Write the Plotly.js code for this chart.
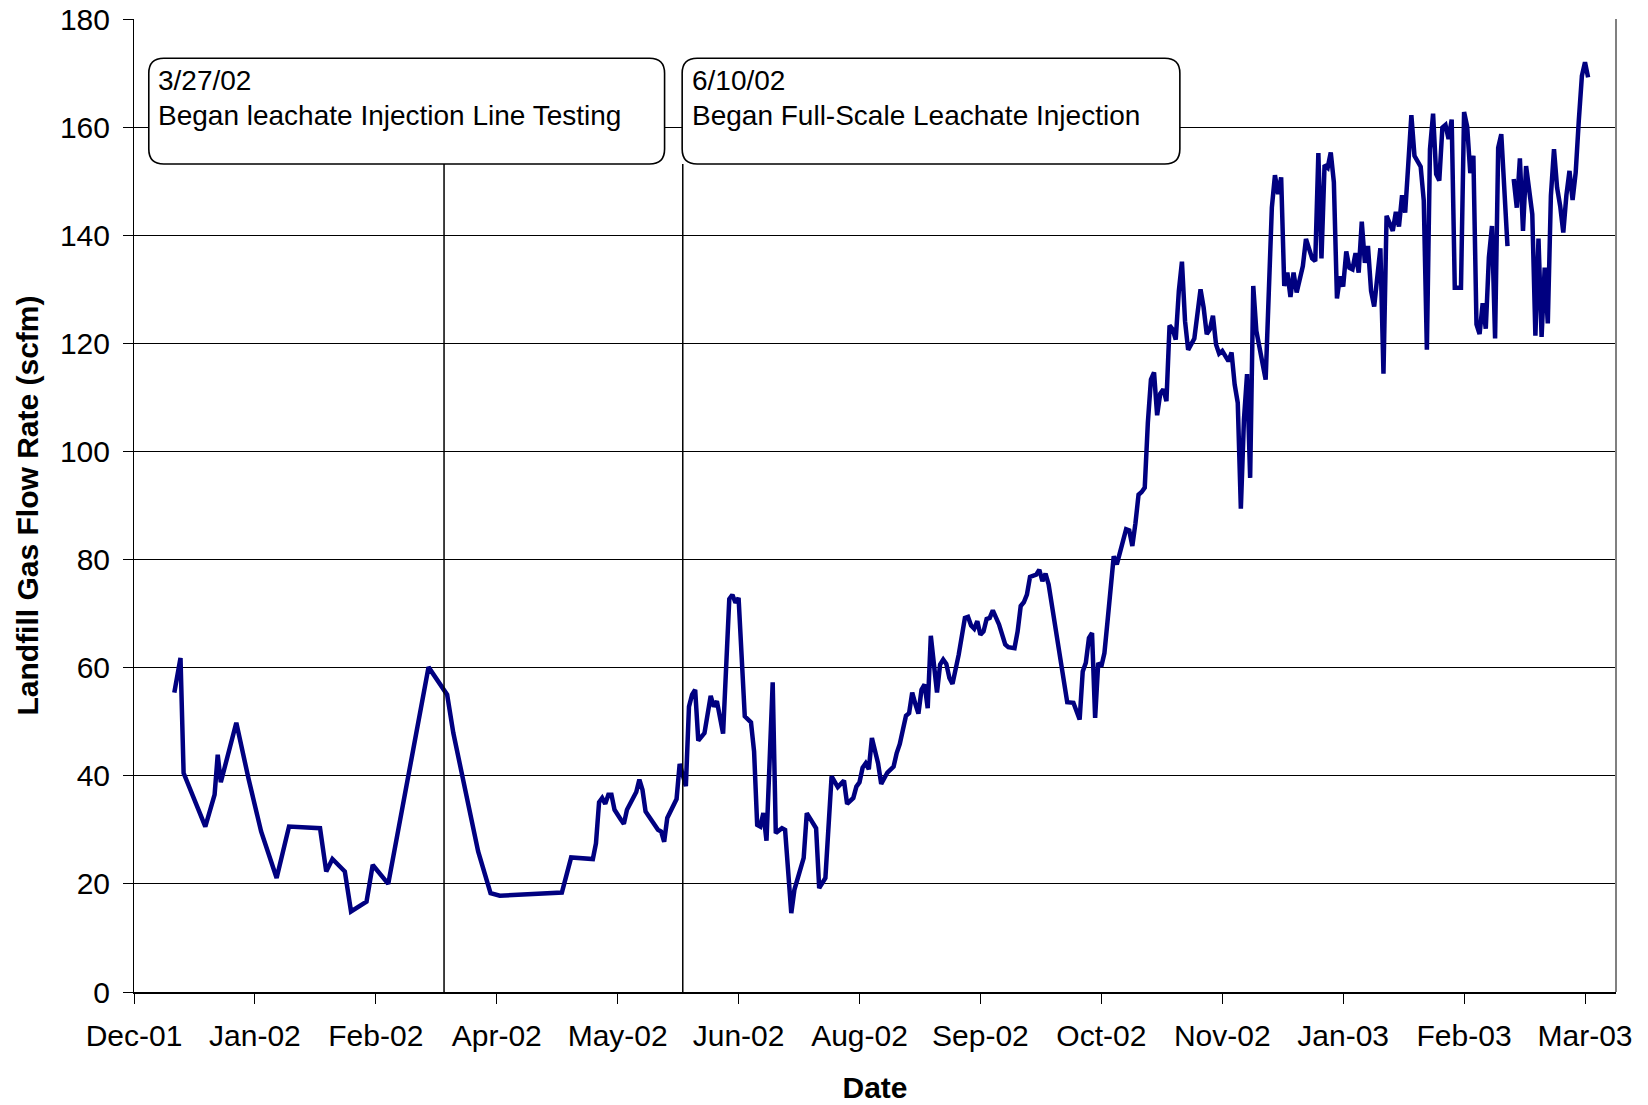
<!DOCTYPE html>
<html>
<head>
<meta charset="utf-8">
<script src="https://cdn.plot.ly/plotly-3.0.1.min.js"></script>
<style>html,body{margin:0;padding:0;background:#fff;}#chart{width:1648px;height:1105px;}</style>
</head>
<body>
<div id="chart"></div>
<script>
// Measurement day, counted in days after 2001-12-31
const dayOffset = [
-7,-5,-4,3,6,7,8,13,17,21,26,30,40,42,44,48,50,55,57,62,75,81,83,91,95,98,118,121,128,129,
130,131,132,133,134,135,137,138,139,142,143,144,145,149,150,151,152,155,156,158,159,160,161,162,164,166,167,168,170,172,
173,174,175,176,177,179,180,181,182,183,184,186,187,189,190,192,193,196,197,200,201,203,205,207,209,210,212,213,214,215,
216,217,218,220,221,223,225,226,227,228,229,230,231,232,233,234,235,236,237,239,240,241,242,243,244,246,248,249,250,251,
252,253,254,255,256,257,258,259,261,262,264,265,266,267,268,269,271,272,273,274,275,281,283,285,286,287,288,289,290,291,
292,293,294,295,296,297,298,300,301,302,303,304,305,306,307,308,309,310,311,312,313,314,315,316,317,318,319,320,322,323,
324,325,326,327,328,329,330,331,332,333,334,335,336,337,338,339,340,341,342,345,347,348,349,350,351,352,353,354,355,356,
357,358,360,361,362,363,364,365,366,367,368,369,370,371,372,373,374,375,376,377,378,379,380,382,383,384,386,387,388,389,
390,391,392,393,395,396,397,398,399,400,401,402,403,404,405,406,408,409,410,411,412,413,414,415,416,417,418,419,420,421,
422,423,424,425,426,427,428,429,431,432,433,434,435,436,437,438,439,440,441,442,443,444,445,446,447,448,449
];
// Landfill gas flow rate (scfm); null = no reading
const flowRate = [
55.4,61.8,40.5,30.6,36.5,43.9,38.8,49.8,39.3,29.7,21.1,30.6,30.3,22.3,24.6,22.3,14.9,16.7,23.5,20.0,60.1,55.0,47.9,26.0,18.3,17.8,18.4,24.9,24.6,27.5,
35.1,35.9,34.8,36.5,36.5,33.7,31.9,31.1,33.7,37.0,39.3,37.4,33.4,30.0,29.7,27.8,32.2,35.7,42.2,38.1,52.8,55.0,55.9,46.5,47.9,54.8,52.8,53.8,47.8,72.7,
73.5,72.0,72.9,63.3,51.0,49.9,44.5,30.9,30.6,33.1,28.0,57.3,29.4,30.3,30.0,14.6,18.9,24.8,33.1,30.3,19.2,21.1,39.9,37.9,39.1,34.8,35.9,38.0,38.8,41.5,
42.3,41.2,47.0,42.3,38.5,40.6,41.7,44.2,45.9,48.5,51.1,51.6,55.4,53.3,51.5,55.9,56.9,52.5,65.9,55.4,60.6,61.5,60.7,58.1,57.0,62.4,69.2,69.4,67.8,67.2,
68.6,66.1,66.7,69.0,69.2,70.6,69.4,68.0,64.3,63.8,63.6,66.7,71.4,72.1,73.5,76.8,77.2,78.1,76.0,77.4,75.4,53.6,53.5,50.4,59.3,60.9,65.5,66.4,50.7,60.9,
60.2,62.7,68.6,75.1,80.6,79.1,81.5,85.6,85.4,82.5,86.7,92.0,92.5,93.3,105.3,113.3,114.6,106.7,110.7,111.5,109.3,123.3,122.6,120.7,129.7,135.1,124.1,118.8,120.9,124.8,
130.0,126.6,121.7,122.6,125.1,119.8,118.1,118.6,117.8,116.7,118.3,112.4,109.0,89.4,105.9,114.3,95.1,130.6,122.3,113.3,145.1,151.1,147.6,150.7,130.6,133.1,128.6,133.1,129.4,131.9,
134.3,139.3,135.7,135.2,155.2,135.7,153.0,152.5,155.3,149.8,128.3,132.4,130.5,137.0,134.0,133.7,136.7,133.1,142.5,134.9,138.0,129.7,126.8,137.6,114.4,143.6,140.8,144.3,141.6,147.4,
144.2,153.1,162.2,154.7,152.7,146.4,118.8,155.9,162.5,151.3,150.1,159.9,160.4,157.8,161.4,130.3,130.3,162.8,160.1,151.5,154.7,123.5,121.7,127.4,122.7,135.9,141.7,120.9,156.2,158.7,
149.1,138.0,null,150.4,145.1,154.2,140.8,152.8,143.9,121.4,139.4,121.2,134.0,123.7,147.3,155.9,148.8,145.4,140.5,147.4,151.9,146.5,151.6,161.2,169.5,172.0,169.2
];
const eventDates = ['2002-03-21', '2002-06-06'];
const eventLabels = ['3/27/02', '6/10/02'];
const eventTexts = ['Began leachate Injection Line Testing', 'Began Full-Scale Leachate Injection'];
const axisStart = '2001-12-11', axisEnd = '2003-04-03';
const tickStepDays = 39;

const DAY0 = Date.UTC(2001, 11, 31);
const dates = dayOffset.map(d => new Date(DAY0 + d * 86400000).toISOString().slice(0, 10));

// plot-area geometry (pixels)
const ML = 133.5, MT = 19.3, PW = 1482.9, PH = 972.7;
const W = 1648, H = 1105;
const px2x = p => (p - ML) / PW;
const py2y = p => (MT + PH - p) / PH;

function roundRect(x0, y0, x1, y1, r) {
  const X = px2x, Y = py2y;
  return 'M ' + X(x0 + r) + ' ' + Y(y0) +
    ' L ' + X(x1 - r) + ' ' + Y(y0) +
    ' Q ' + X(x1) + ' ' + Y(y0) + ' ' + X(x1) + ' ' + Y(y0 + r) +
    ' L ' + X(x1) + ' ' + Y(y1 - r) +
    ' Q ' + X(x1) + ' ' + Y(y1) + ' ' + X(x1 - r) + ' ' + Y(y1) +
    ' L ' + X(x0 + r) + ' ' + Y(y1) +
    ' Q ' + X(x0) + ' ' + Y(y1) + ' ' + X(x0) + ' ' + Y(y1 - r) +
    ' L ' + X(x0) + ' ' + Y(y0 + r) +
    ' Q ' + X(x0) + ' ' + Y(y0) + ' ' + X(x0 + r) + ' ' + Y(y0) + ' Z';
}

const FONT = 'Liberation Sans, Arial, Helvetica, sans-serif';
const boxes = [
  {x0: 148.3, x1: 664.4, tx: 156.0},
  {x0: 682.0, x1: 1180.0, tx: 689.6}
];
const boxTop = 58.5, boxBottom = 164.3;

const shapes = [];
const annotations = [];
boxes.forEach((b, i) => {
  shapes.push({type: 'line', xref: 'x', yref: 'paper', x0: eventDates[i], x1: eventDates[i],
    y0: 0, y1: py2y(boxBottom), line: {color: '#000', width: 1.5}});
  shapes.push({type: 'path', xref: 'paper', yref: 'paper', path: roundRect(b.x0, boxTop, b.x1, boxBottom, 15),
    fillcolor: '#ffffff', line: {color: '#000', width: 1.6}});
  annotations.push({xref: 'paper', yref: 'paper', x: px2x(b.tx), y: py2y(80.5), xanchor: 'left', yanchor: 'middle',
    showarrow: false, text: eventLabels[i], font: {family: FONT, size: 28, color: '#000'}});
  annotations.push({xref: 'paper', yref: 'paper', x: px2x(b.tx), y: py2y(116), xanchor: 'left', yanchor: 'middle',
    showarrow: false, text: eventTexts[i], font: {family: FONT, size: 28, color: '#000'}});
});
shapes.push({type: 'line', xref: 'paper', yref: 'paper', x0: 1, x1: 1, y0: 0, y1: 1,
  line: {color: '#808080', width: 2}});

const trace = {
  type: 'scatter', mode: 'lines', x: dates, y: flowRate, connectgaps: false,
  line: {color: '#000080', width: 4.5}, hoverinfo: 'skip'
};

const layout = {
  width: W, height: H,
  margin: {l: ML, r: W - ML - PW, t: MT, b: H - MT - PH, pad: 0},
  paper_bgcolor: '#fff', plot_bgcolor: '#fff',
  showlegend: false,
  font: {family: FONT, color: '#000'},
  xaxis: {
    type: 'date', range: [axisStart, axisEnd], tick0: axisStart, dtick: tickStepDays * 86400000,
    tickformat: '%b-%y', ticks: 'outside', ticklen: 9.5, tickwidth: 1, tickcolor: '#000',
    showline: true, linecolor: '#000', linewidth: 2, showgrid: false, zeroline: false,
    tickfont: {family: FONT, size: 30, color: '#000'}, ticklabelstandoff: 6,
    title: {text: '<b>Date</b>', font: {family: FONT, size: 30, color: '#000'}, standoff: 26},
    automargin: false, fixedrange: true
  },
  yaxis: {
    range: [0, 180], dtick: 20, tick0: 0, ticks: 'outside', ticklen: 9.5, tickwidth: 1, tickcolor: '#000',
    showline: true, linecolor: '#000', linewidth: 1.5, showgrid: true, gridcolor: '#000', gridwidth: 1,
    zeroline: false, tickfont: {family: FONT, size: 30, color: '#000'}, ticklabelstandoff: 7,
    title: {text: '<b>Landfill Gas Flow Rate (scfm)</b>', font: {family: FONT, size: 30, color: '#000'}, standoff: 12},
    automargin: false, fixedrange: true
  },
  shapes: shapes,
  annotations: annotations
};

Plotly.newPlot('chart', [trace], layout, {staticPlot: true, displayModeBar: false});
</script>
</body>
</html>
